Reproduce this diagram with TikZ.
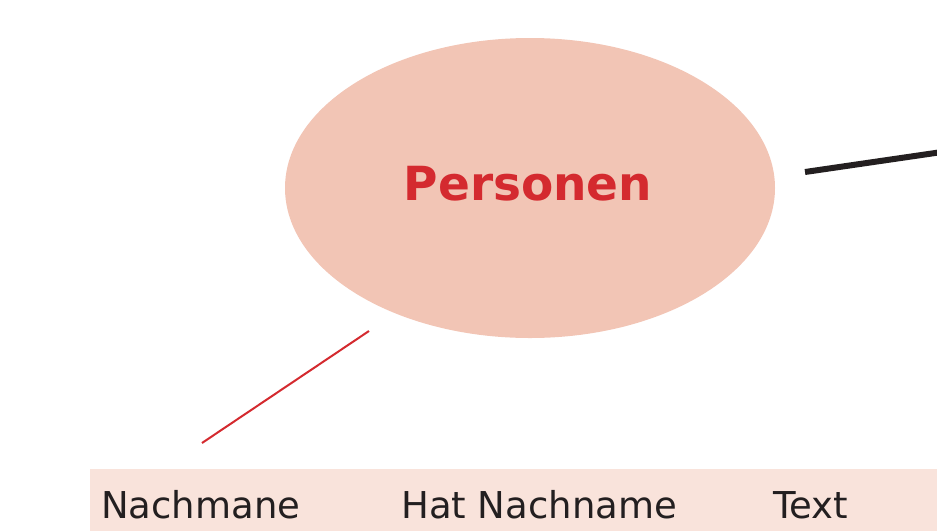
\documentclass[tikz,border=0pt]{standalone}
\usepackage{fontspec}
\setmainfont{DejaVu Sans}
\usetikzlibrary{shapes.geometric}
\definecolor{ellfill}{HTML}{F2C5B5}
\definecolor{persred}{HTML}{D42A2F}
\definecolor{bandfill}{HTML}{F9E3DB}
\definecolor{darktext}{HTML}{231F20}
\tikzset{
  celltext/.style={anchor=base west, inner sep=0pt, text=darktext, font=\fontsize{37}{37}\selectfont},
}
\begin{document}
\begin{tikzpicture}[x=1pt,y=-1pt]
\useasboundingbox (0,0) rectangle (937,531);
\node[fill=bandfill, minimum width=847pt, minimum height=62pt, anchor=north west, inner sep=0pt] (band) at (90,469) {};
\node[ellipse, fill=ellfill, minimum width=490pt, minimum height=300pt, inner sep=0pt] (pers) at (530,188) {};
\node[anchor=base, inner sep=0pt, text=persred, font=\bfseries\fontsize{47}{47}\selectfont] (label) at (528,200) {Personen};
\node[celltext] (c1) at (101,518) {Nachmane};
\node[celltext] (c2) at (401,518) {Hat Nachname};
\node[celltext] (c3) at (773,518) {Text};
\coordinate (k1) at (805,172);
\coordinate (k2) at (942,152);
\draw[line width=6pt, color=darktext] (k1) -- (k2);
\coordinate (r1) at (369,331);
\coordinate (r2) at (202,443);
\draw[line width=2pt, color=persred] (r1) -- (r2);
\end{tikzpicture}
\end{document}
